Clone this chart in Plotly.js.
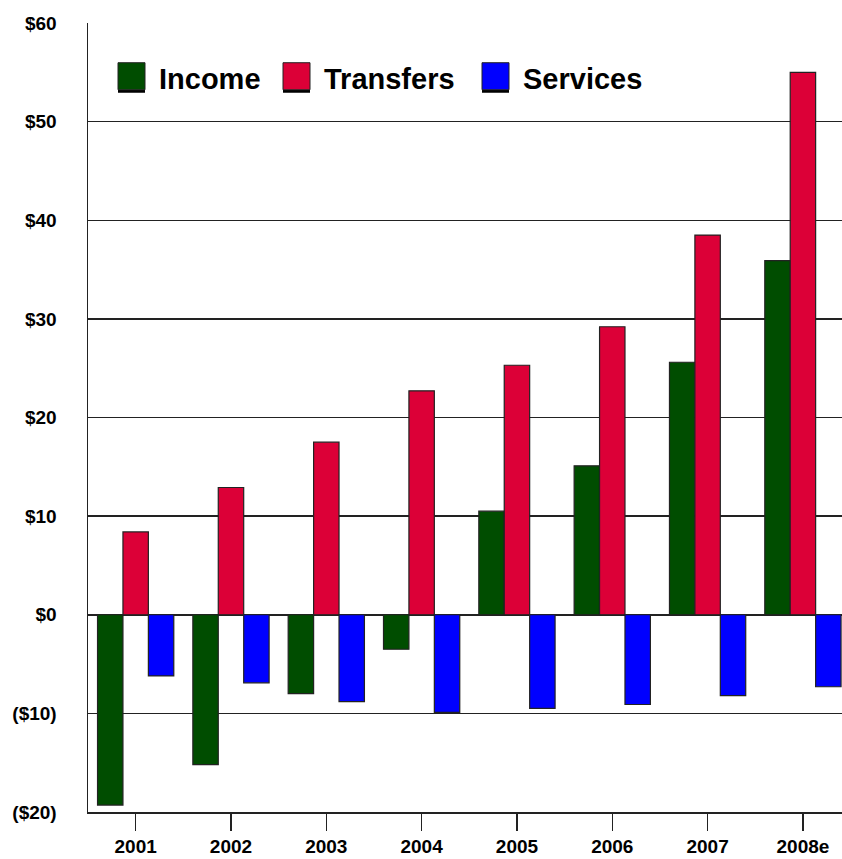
<!DOCTYPE html>
<html><head><meta charset="utf-8">
<script src="https://cdn.plot.ly/plotly-3.0.1.min.js"></script>
<style>html,body{margin:0;padding:0;background:#fff}#chart{width:842px;height:859px}</style>
</head><body><div id="chart"></div>
<script>
const years = ["2001","2002","2003","2004","2005","2006","2007","2008e"];
const income = [-19.3,-15.2,-8.0,-3.5,10.5,15.1,25.6,35.9];
const transfers = [8.4,12.9,17.5,22.7,25.3,29.2,38.5,55.0];
const services = [-6.2,-6.9,-8.8,-9.9,-9.5,-9.1,-8.2,-7.3];
const seriesNames = ["Income","Transfers","Services"];
const seriesColors = ["#004d00","#dc0037","#0000ff"];
const yTickVals = [-20,-10,0,10,20,30,40,50,60];
const yTickText = ["($20)","($10)","$0","$10","$20","$30","$40","$50","$60"];

const seriesData = [income, transfers, services];
const traces = seriesData.map((vals,i)=>({
  type:'bar', x:years, y:vals, name:seriesNames[i],
  marker:{color:seriesColors[i], line:{color:'#222', width:1.2}},
  showlegend:false, hoverinfo:'skip'
}));

// custom legend (paper coords: plot from x=88..842, y=811.7..23.3 px)
const L=88, W=754, B=811.7, H=788.4;
const px=(v)=>(v-L)/W, py=(v)=>(B-v)/H;
const legSq=[118,283,482], legTx=[157,322,521];
const shapes=[], annotations=[];
seriesNames.forEach((n,i)=>{
  shapes.push({type:'rect',xref:'paper',yref:'paper',x0:px(legSq[i]),x1:px(legSq[i]+27),y0:py(93),y1:py(90),fillcolor:'#000',line:{width:0}});
  shapes.push({type:'rect',xref:'paper',yref:'paper',x0:px(legSq[i]),x1:px(legSq[i]+27),y0:py(90),y1:py(63),fillcolor:seriesColors[i],line:{color:'#222',width:1}});
  annotations.push({xref:'paper',yref:'paper',x:px(legTx[i]),y:py(79),xanchor:'left',yanchor:'middle',showarrow:false,text:n,
    font:{family:'Liberation Sans, Arial, sans-serif',size:29,color:'#000',weight:'bold'}});
});

const layout={
  width:842,height:859,
  margin:{l:88,r:0,t:23,b:47,pad:0},
  paper_bgcolor:'#fff',plot_bgcolor:'#fff',
  barmode:'group',bargap:0.2,bargroupgap:0,
  font:{family:'Liberation Sans, Arial, sans-serif',size:19,color:'#000',weight:'bold'},
  xaxis:{type:'category',range:[-0.5,7.41],showgrid:false,showline:true,linecolor:'#222',linewidth:1.5,
    ticks:'outside',ticklen:17,tickwidth:1.5,tickcolor:'#222',ticklabelstandoff:0,
    tickfont:{size:19,weight:'bold'},zeroline:false,fixedrange:true},
  yaxis:{range:[-20,60],tickvals:yTickVals,ticktext:yTickText,showgrid:true,gridcolor:'#222',gridwidth:1.5,
    zeroline:true,zerolinecolor:'#222',zerolinewidth:1.5,showline:true,linecolor:'#222',linewidth:1.5,
    ticks:'',ticklabelstandoff:26,tickfont:{size:19,weight:'bold'},fixedrange:true},
  shapes:shapes,annotations:annotations
};
Plotly.newPlot('chart',traces,layout,{staticPlot:true,displayModeBar:false});
</script></body></html>
